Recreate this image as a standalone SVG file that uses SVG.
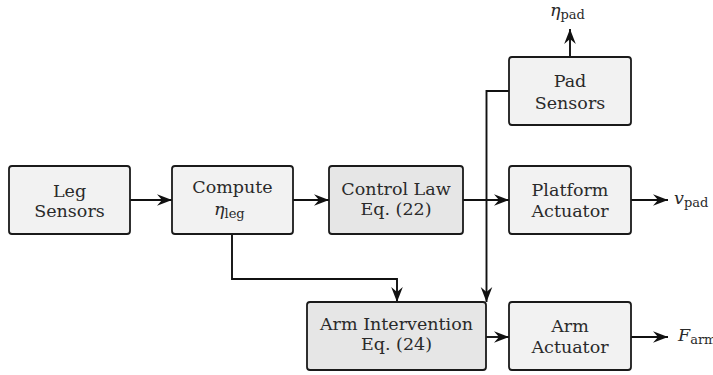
<svg xmlns="http://www.w3.org/2000/svg" width="713" height="375" viewBox="0 0 713 375">
<style>
.box{stroke:#1a1a1a;stroke-width:1.8;}
.lt{fill:#f2f2f2;}
.dk{fill:#e6e6e6;}
.t{font-family:'DejaVu Serif',serif;font-size:17.5px;fill:#2a2a2a;text-anchor:middle;}
.m{font-family:'DejaVu Serif',serif;font-size:17.5px;fill:#2a2a2a;}
.s{font-size:13px;}
.c{fill:none;stroke:#111;stroke-width:1.9;}
</style>
<defs>
<marker id="arr" viewBox="-16 -7 17 14" refX="0" refY="0" markerWidth="17" markerHeight="14" markerUnits="userSpaceOnUse" orient="auto">
<path d="M0,0 L-15,-5.8 L-10,0 L-15,5.8 Z" fill="#111"/>
</marker>
</defs>
<g id="connectors">
<path class="c" d="M130,200 H172" marker-end="url(#arr)"/>
<path class="c" d="M293,200 H329" marker-end="url(#arr)"/>
<path class="c" d="M463,200 H509" marker-end="url(#arr)"/>
<path class="c" d="M232,234 V279 H397 V302" marker-end="url(#arr)"/>
<path class="c" d="M509,91 H486.5 V302" marker-end="url(#arr)"/>
<path class="c" d="M486,337 H509" marker-end="url(#arr)"/>
<path class="c" d="M570,57 V29" marker-end="url(#arr)"/>
<path class="c" d="M631,200 H668" marker-end="url(#arr)"/>
<path class="c" d="M631,337 H668" marker-end="url(#arr)"/>
</g>
<g id="leg-sensors">
<rect class="box lt" x="9" y="166" width="121" height="68" rx="3"/>
<text class="t" x="69.5" y="197">Leg</text>
<text class="t" x="69.5" y="217">Sensors</text>
</g>
<g id="compute">
<rect class="box lt" x="172" y="166" width="121" height="68" rx="3"/>
<text class="t" x="232.5" y="193">Compute</text>
<text class="m" x="214" y="215"><tspan font-style="italic">η</tspan><tspan class="s" dy="3">leg</tspan></text>
</g>
<g id="control-law">
<rect class="box dk" x="329" y="166" width="134" height="68" rx="3"/>
<text class="t" x="396" y="195">Control Law</text>
<text class="t" x="396" y="215">Eq. (22)</text>
</g>
<g id="pad-sensors">
<rect class="box lt" x="509" y="57" width="122" height="68" rx="3"/>
<text class="t" x="570" y="87">Pad</text>
<text class="t" x="570" y="109">Sensors</text>
</g>
<g id="platform-actuator">
<rect class="box lt" x="509" y="166" width="122" height="68" rx="3"/>
<text class="t" x="570" y="196">Platform</text>
<text class="t" x="570" y="217">Actuator</text>
</g>
<g id="arm-intervention">
<rect class="box dk" x="307" y="302" width="179" height="68" rx="3"/>
<text class="t" x="396.5" y="330">Arm Intervention</text>
<text class="t" x="396.5" y="350">Eq. (24)</text>
</g>
<g id="arm-actuator">
<rect class="box lt" x="509" y="302" width="122" height="68" rx="3"/>
<text class="t" x="570" y="332">Arm</text>
<text class="t" x="570" y="353">Actuator</text>
</g>
<g id="outputs">
<text class="m" x="550" y="16"><tspan font-style="italic">η</tspan><tspan class="s" dy="3">pad</tspan></text>
<text class="m" x="674" y="204"><tspan font-style="italic">v</tspan><tspan class="s" dy="3">pad</tspan></text>
<text class="m" x="678" y="341"><tspan font-style="italic">F</tspan><tspan class="s" dy="3">arm</tspan></text>
</g>
</svg>
